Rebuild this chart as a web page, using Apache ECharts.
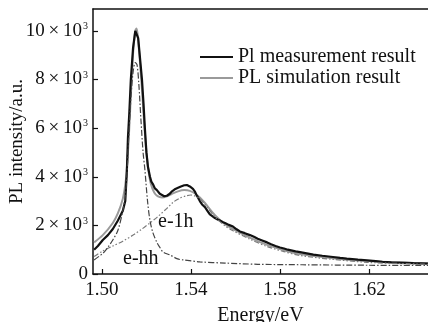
<!DOCTYPE html>
<html>
<head>
<meta charset="utf-8">
<script src="https://cdn.jsdelivr.net/npm/echarts@6/dist/echarts.min.js"></script>
<style>html,body{margin:0;padding:0;background:#fff}#c{width:428px;height:322px}</style>
</head>
<body>
<div id="c"></div>
<script>
// Energies in eV, intensities in units of 10^3 a.u.
var xTicks = [1.50, 1.54, 1.58, 1.62];
var yTicks = [0, 2, 4, 6, 8, 10];
var legendNames = ['Pl measurement result', 'PL simulation result'];

var measE = [1.4965,1.4982,1.5004,1.5027,1.5049,1.5072,1.5094,1.5105,1.5112,1.5117,1.5123,1.5130,1.5140,1.5150,1.5156,1.5163,1.5172,1.5180,1.5187,1.5193,1.5200,1.5207,1.5216,1.5222,1.5229,1.5238,1.5247,1.5254,1.5260,1.5266,1.5270,1.5275,1.5280,1.5286,1.5292,1.5298,1.5305,1.5310,1.5315,1.5322,1.5330,1.5336,1.5342,1.5348,1.5355,1.5362,1.5370,1.5376,1.5382,1.5388,1.5395,1.5402,1.5409,1.5417,1.5425,1.5432,1.5440,1.5450,1.5463,1.5474,1.5485,1.5496,1.5508,1.5520,1.5530,1.5542,1.5553,1.5570,1.5589,1.5605,1.5620,1.5642,1.5665,1.5683,1.5700,1.5720,1.5742,1.5760,1.5780,1.5800,1.5818,1.5835,1.5850,1.5870,1.5890,1.5920,1.5950,1.5990,1.6038,1.6070,1.6100,1.6150,1.6191,1.6230,1.6260,1.6300,1.6339,1.6400,1.6465];
var measI = [1.00,1.15,1.40,1.60,1.85,2.20,2.60,3.00,4.20,5.60,6.60,8.00,9.30,10.00,10.05,9.70,8.80,8.00,7.00,6.00,5.00,4.40,4.00,3.80,3.70,3.52,3.45,3.40,3.30,3.34,3.25,3.22,3.20,3.26,3.22,3.28,3.30,3.36,3.40,3.44,3.50,3.47,3.55,3.58,3.60,3.66,3.65,3.70,3.66,3.68,3.60,3.56,3.50,3.40,3.25,3.14,3.00,2.86,2.75,2.60,2.45,2.38,2.30,2.24,2.20,2.14,2.10,2.02,1.95,1.84,1.75,1.68,1.60,1.53,1.45,1.38,1.30,1.22,1.15,1.09,1.05,1.00,0.97,0.93,0.90,0.85,0.80,0.75,0.70,0.66,0.63,0.59,0.56,0.53,0.50,0.48,0.47,0.45,0.43];

var simE = [1.4965,1.5004,1.5049,1.5072,1.5094,1.5108,1.5117,1.5125,1.5133,1.5141,1.5150,1.5156,1.5163,1.5172,1.5180,1.5190,1.5200,1.5210,1.5220,1.5235,1.5250,1.5270,1.5292,1.5315,1.5342,1.5370,1.5395,1.5420,1.5440,1.5463,1.5508,1.5553,1.5589,1.5665,1.5742,1.5818,1.5890,1.6038,1.6191,1.6339,1.6465];
var simI = [1.30,1.60,2.10,2.50,3.10,3.90,5.00,6.40,7.90,9.20,10.00,10.10,9.60,8.60,7.60,6.20,5.00,4.20,3.70,3.35,3.20,3.15,3.20,3.30,3.40,3.45,3.42,3.30,3.15,2.92,2.42,2.05,1.85,1.50,1.20,0.98,0.82,0.65,0.53,0.47,0.44];

var ehhE = [1.4965,1.5004,1.5027,1.5049,1.5072,1.5094,1.5105,1.5112,1.5120,1.5130,1.5140,1.5150,1.5158,1.5166,1.5175,1.5185,1.5193,1.5205,1.5216,1.5229,1.5247,1.5260,1.5275,1.5306,1.5340,1.5364,1.5440,1.5553,1.5700,1.5900,1.6200,1.6465];
var ehhI = [0.58,0.85,1.10,1.40,1.80,2.60,3.20,4.00,5.50,7.20,8.30,8.70,8.60,7.80,6.40,5.00,4.30,3.00,2.20,1.70,1.30,1.10,0.90,0.78,0.62,0.58,0.50,0.45,0.40,0.38,0.36,0.35];

var elhE = [1.4965,1.5004,1.5049,1.5094,1.5140,1.5180,1.5216,1.5250,1.5292,1.5320,1.5350,1.5380,1.5400,1.5420,1.5440,1.5463,1.5508,1.5553,1.5589,1.5665,1.5742,1.5818,1.5890,1.6038,1.6191,1.6339,1.6465];
var elhI = [0.72,0.95,1.15,1.35,1.60,1.85,2.10,2.35,2.70,2.95,3.12,3.22,3.25,3.20,3.10,2.85,2.35,1.98,1.78,1.43,1.13,0.92,0.76,0.60,0.48,0.43,0.40];

var xMin = 1.496, xMax = 1.6465, yMin = 0, yMax = 10.9;
var FONT = "'Liberation Serif','Times New Roman',serif";

function pairs(xs, ys) { return xs.map(function (x, i) { return [x, ys[i]]; }); }

var chart = echarts.init(document.getElementById('c'), null, { renderer: 'canvas' });
chart.setOption({
  animation: false,
  backgroundColor: '#fff',
  textStyle: { fontFamily: FONT, color: '#111' },
  grid: { left: 93, top: 9, right: 0, bottom: 48, containLabel: false, outerBoundsMode: 'none' },
  legend: {
    data: legendNames,
    orient: 'vertical',
    left: 195, top: 42,
    icon: 'rect',
    itemWidth: 33, itemHeight: 2, itemGap: 1,
    textStyle: { fontFamily: FONT, fontSize: 20, color: '#111' }
  },
  xAxis: [{
    type: 'value', min: xMin, max: xMax,
    name: 'Energy/eV', nameLocation: 'middle', nameGap: 32, nameMoveOverlap: false,
    nameTextStyle: { fontFamily: FONT, fontSize: 20, color: '#111' },
    axisLine: { show: true, lineStyle: { color: '#111', width: 1.5 } },
    axisTick: { show: true, inside: true, length: 5, customValues: xTicks, lineStyle: { color: '#111', width: 1.2 } },
    axisLabel: { customValues: xTicks, margin: 7, fontFamily: FONT, fontSize: 19, color: '#111',
      formatter: function (v) { return v.toFixed(2); } },
    splitLine: { show: false }
  }, {
    type: 'value', position: 'top', min: xMin, max: xMax,
    axisLine: { show: true, lineStyle: { color: '#111', width: 1.5 } },
    axisTick: { show: false }, axisLabel: { show: false }, splitLine: { show: false }
  }],
  yAxis: {
    type: 'value', min: yMin, max: yMax,
    name: 'PL intensity/a.u.', nameLocation: 'middle', nameGap: 66, nameMoveOverlap: false,
    nameTextStyle: { fontFamily: FONT, fontSize: 19, color: '#111' },
    axisLine: { show: true, lineStyle: { color: '#111', width: 1.5 } },
    axisTick: { show: true, inside: true, length: 5, customValues: yTicks, lineStyle: { color: '#111', width: 1.2 } },
    axisLabel: {
      customValues: yTicks, margin: 5, fontFamily: FONT, fontSize: 19, color: '#111',
      formatter: function (v) { return v === 0 ? '{a|0}' : '{a|' + v + '\u2009×\u200910}{s|3}'; },
      rich: {
        a: { fontFamily: FONT, fontSize: 19, color: '#111' },
        s: { fontFamily: FONT, fontSize: 10, color: '#111', verticalAlign: 'top', padding: [0, 0, 9, 1] }
      }
    },
    splitLine: { show: false }
  },
  series: [
    { name: 'PL simulation result', type: 'line', data: pairs(simE, simI), symbol: 'none', smooth: 0.3,
      lineStyle: { color: '#9a9a9a', width: 2 }, itemStyle: { color: '#9a9a9a' }, z: 2 },
    { name: 'Pl measurement result', type: 'line', data: pairs(measE, measI), symbol: 'none',
      lineStyle: { color: '#111', width: 2.2 }, itemStyle: { color: '#111' }, z: 3 },
    { name: 'e-lh', type: 'line', data: pairs(elhE, elhI), symbol: 'none', smooth: 0.3,
      lineStyle: { color: '#7a7a7a', width: 1.2, type: [5, 2, 1.5, 2, 1.5, 2] }, z: 4 },
    { name: 'e-hh', type: 'line', data: pairs(ehhE, ehhI), symbol: 'none', smooth: 0.3,
      lineStyle: { color: '#444', width: 1.2, type: [6, 2, 1.5, 2] }, z: 5 }
  ],
  graphic: [
    { type: 'text', left: 158, top: 212, style: { text: 'e-1h', font: '20px ' + FONT, fill: '#111' } },
    { type: 'text', left: 123, top: 249, style: { text: 'e-hh', font: '20px ' + FONT, fill: '#111' } }
  ]
});
</script>
</body>
</html>
